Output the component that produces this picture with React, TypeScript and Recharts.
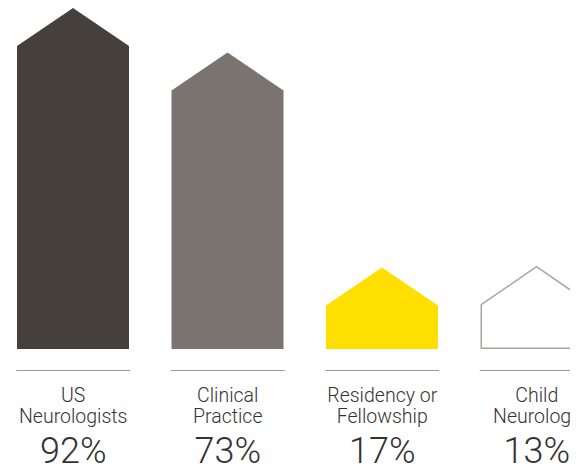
import { Bar, BarChart, XAxis, YAxis } from "recharts";

const categories = ["US|Neurologists", "Clinical|Practice", "Residency or|Fellowship", "Child|Neurology"];
const shares = [92, 73, 17, 13];
// drawn heights of the house bars (not proportional to the shares)
const heights = [92, 80, 22, 22.4];
const fills = ["#46403c", "#7b736f", "#ffdf00", "#ffffff"];
const strokes = ["none", "none", "none", "#aaa5a1"];

const data = categories.map((c, i) => ({
  name: c,
  share: shares[i],
  height: heights[i],
  fill: fills[i],
  stroke: strokes[i],
}));

const W = 618;
const H = 466;
const PLOT_BOTTOM = 341;
const AXIS_H = 30;
const ROOF = 38;
const font = "Roboto, 'Liberation Sans', sans-serif";

function House(props: any) {
  const { x, y, width, height, payload } = props;
  const outlined = payload.stroke !== "none";
  const o = outlined ? 0.75 : 0;
  const l = x + o;
  const r = x + width - o;
  const t = y + o;
  const b = y + height - o;
  const d = `M${l},${t + ROOF} L${(l + r) / 2},${t} L${r},${t + ROOF} L${r},${b} L${l},${b} Z`;
  return (
    <path
      d={d}
      fill={payload.fill}
      stroke={outlined ? payload.stroke : "none"}
      strokeWidth={outlined ? 1.5 : 0}
    />
  );
}

function Tick(props: any) {
  const { x, payload, index } = props;
  const [l1, l2] = String(payload.value).split("|");
  return (
    <g>
      <line x1={x - 57} x2={x + 57} y1={PLOT_BOTTOM + 21.5} y2={PLOT_BOTTOM + 21.5} stroke="#9a9a9a" strokeWidth={1} />
      <text x={x} y={PLOT_BOTTOM + 53} textAnchor="middle" fontFamily={font} fontWeight={300} fontSize={19.5} fill="#333">
        {l1}
      </text>
      <text x={x} y={PLOT_BOTTOM + 74} textAnchor="middle" fontFamily={font} fontWeight={300} fontSize={19.5} fill="#333">
        {l2}
      </text>
      <text x={x} y={PLOT_BOTTOM + 114} textAnchor="middle" fontFamily={font} fontWeight={300} fontSize={36} fill="#333">
        {shares[index]}%
      </text>
    </g>
  );
}

export default function App() {
  return (
    <div style={{ position: "relative", width: 570, height: H, overflow: "hidden" }}>
      <div style={{ position: "absolute", left: -12, top: 0 }}>
        <BarChart width={W} height={H} data={data} margin={{ top: 0, right: 0, bottom: H - PLOT_BOTTOM - AXIS_H, left: 0 }}>
          <YAxis hide domain={[0, 92]} />
          <XAxis dataKey="name" height={AXIS_H} axisLine={false} tickLine={false} interval={0} tick={<Tick />} />
          <Bar dataKey="height" barSize={112} shape={<House />} isAnimationActive={false} />
        </BarChart>
      </div>
    </div>
  );
}
